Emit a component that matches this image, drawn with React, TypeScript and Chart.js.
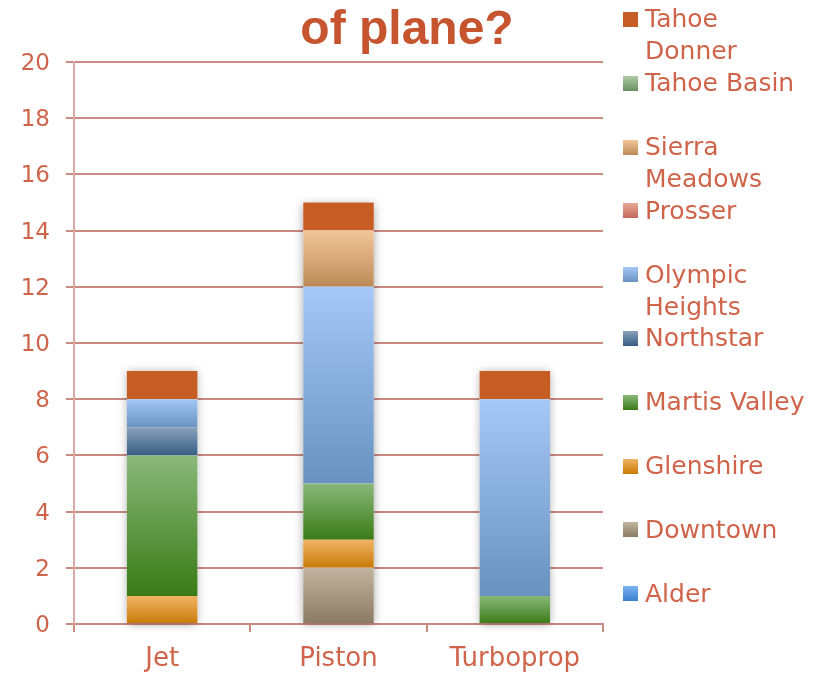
import React, { useEffect, useRef } from "react";
import { Chart, registerables } from "chart.js";

Chart.register(...registerables);

const categories = ["Jet", "Piston", "Turboprop"];

const seriesNames = [
  "Alder",
  "Downtown",
  "Glenshire",
  "Martis Valley",
  "Northstar",
  "Olympic Heights",
  "Prosser",
  "Sierra Meadows",
  "Tahoe Basin",
  "Tahoe Donner",
];

const alder = [0, 0, 0];
const downtown = [0, 2, 0];
const glenshire = [1, 1, 0];
const martisValley = [5, 2, 1];
const northstar = [1, 0, 0];
const olympicHeights = [1, 7, 7];
const prosser = [0, 0, 0];
const sierraMeadows = [0, 2, 0];
const tahoeBasin = [0, 0, 0];
const tahoeDonner = [1, 1, 1];

const seriesValues = [
  alder,
  downtown,
  glenshire,
  martisValley,
  northstar,
  olympicHeights,
  prosser,
  sierraMeadows,
  tahoeBasin,
  tahoeDonner,
];

const yTicks = [0, 2, 4, 6, 8, 10, 12, 14, 16, 18, 20];

const titleText = "of plane?";

// gradient colours [top, bottom]
const seriesColors: [string, string][] = [
  ["#7cb4f2", "#3a7fcf"],
  ["#c2b4a0", "#8a7a62"],
  ["#f0b464", "#c97a06"],
  ["#8ab87a", "#3a7a16"],
  ["#8aa2bc", "#375d85"],
  ["#a6c8f6", "#6892c0"],
  ["#eaa898", "#c26a5a"],
  ["#f2c69a", "#bc8a58"],
  ["#aecca6", "#6a8e5e"],
  ["#c55d24", "#c55d24"],
];

const legendBreak = ["Tahoe Donner", "Sierra Meadows", "Olympic Heights"];

const TEXT_COLOR = "#d0644a";
const GRID_COLOR = "#c98a82";
const AXIS_COLOR = "#dcaaa6";
const FONT = "'DejaVu Sans', sans-serif";

const shadowPlugin = {
  id: "stackShadow",
  beforeDatasetsDraw(chart: any) {
    const ctx = chart.ctx;
    const n = chart.data.labels.length;
    for (let i = 0; i < n; i++) {
      let top = Infinity;
      let bottom = -Infinity;
      let x = 0;
      let w = 0;
      chart.data.datasets.forEach((ds: any, di: number) => {
        const meta = chart.getDatasetMeta(di);
        const el: any = meta.data[i];
        if (!el || !ds.data[i]) return;
        const p = el.getProps(["x", "y", "base", "width"], true);
        top = Math.min(top, p.y, p.base);
        bottom = Math.max(bottom, p.y, p.base);
        x = p.x;
        w = p.width;
      });
      if (!isFinite(top)) continue;
      ctx.save();
      ctx.shadowColor = "rgba(0,0,0,0.35)";
      ctx.shadowBlur = 9;
      ctx.shadowOffsetX = 0;
      ctx.shadowOffsetY = 1;
      ctx.fillStyle = "#ffffff";
      ctx.fillRect(x - w / 2, top, w, bottom - top);
      ctx.restore();
    }
  },
};

export default function App() {
  const canvasRef = useRef<HTMLCanvasElement | null>(null);

  useEffect(() => {
    if (!canvasRef.current) return;
    const datasets = seriesNames.map((name, si) => ({
      label: name,
      data: seriesValues[si],
      borderWidth: 0,
      barPercentage: 0.8,
      categoryPercentage: 0.5,
      backgroundColor: (ctx: any) => {
        const [topC, botC] = seriesColors[si];
        const chart = ctx.chart;
        const yScale = chart.scales && chart.scales.y;
        if (!chart.chartArea || !yScale || ctx.type !== "data") return topC;
        const di = ctx.dataIndex;
        let start = 0;
        for (let k = 0; k < si; k++) start += seriesValues[k][di];
        const end = start + seriesValues[si][di];
        const y0 = yScale.getPixelForValue(start);
        const y1 = yScale.getPixelForValue(end);
        if (!isFinite(y0) || !isFinite(y1) || y0 === y1) return topC;
        const g = chart.ctx.createLinearGradient(0, y1, 0, y0);
        g.addColorStop(0, topC);
        g.addColorStop(1, botC);
        return g;
      },
    }));

    const chart = new Chart(canvasRef.current, {
      type: "bar",
      data: { labels: categories, datasets },
      plugins: [shadowPlugin],
      options: {
        animation: false,
        responsive: false,
        maintainAspectRatio: false,
        layout: { padding: { left: 0, top: 62, right: 211, bottom: 0 } },
        plugins: {
          legend: { display: false },
          title: { display: false },
          tooltip: { enabled: false },
        },
        scales: {
          x: {
            stacked: true,
            afterFit: (scale: any) => {
              scale.height = 51;
            },
            grid: {
              offset: true,
              drawOnChartArea: false,
              drawTicks: true,
              tickLength: 8,
              color: GRID_COLOR,
              lineWidth: 2,
            },
            border: { color: GRID_COLOR, width: 2 },
            ticks: {
              color: TEXT_COLOR,
              font: { family: FONT, size: 26 },
              padding: 12,
            },
          },
          y: {
            stacked: true,
            min: 0,
            max: 20,
            afterFit: (scale: any) => {
              scale.width = 74;
            },
            afterBuildTicks: (scale: any) => {
              scale.ticks = yTicks.map((v) => ({ value: v }));
            },
            grid: {
              color: GRID_COLOR,
              lineWidth: 2,
              tickLength: 8,
              drawTicks: true,
            },
            border: { color: AXIS_COLOR, width: 2 },
            ticks: {
              color: TEXT_COLOR,
              font: { family: FONT, size: 23 },
              padding: 16,
              labelOffset: 2,
            },
          },
        },
      } as any,
    });
    return () => chart.destroy();
  }, []);

  const legendItems = seriesNames
    .map((name, si) => ({ name, si }))
    .reverse();

  return (
    <div
      style={{
        position: "fixed",
        left: 0,
        top: 0,
        width: 814,
        height: 675,
        background: "#ffffff",
        overflow: "hidden",
      }}
    >
      <canvas
        ref={canvasRef}
        width={814}
        height={675}
        style={{ position: "absolute", left: 0, top: 0, width: 814, height: 675 }}
      />
      <div
        style={{
          position: "absolute",
          left: 0,
          top: 4,
          width: 814,
          textAlign: "center",
          fontFamily: "'Liberation Sans', Arial, sans-serif",
          fontWeight: "bold",
          fontSize: 48,
          lineHeight: "48px",
          color: "#c5542f",
          whiteSpace: "nowrap",
        }}
      >
        {titleText}
      </div>
      {legendItems.map((item, i) => {
        const top = 3.4 + 63.8 * i;
        const [topC, botC] = seriesColors[item.si];
        const parts = legendBreak.includes(item.name)
          ? item.name.split(" ")
          : [item.name];
        return (
          <div key={item.name}>
            <div
              style={{
                position: "absolute",
                left: 623,
                top: top + 8.6,
                width: 15,
                height: 15,
                background: `linear-gradient(${topC}, ${botC})`,
              }}
            />
            <div
              style={{
                position: "absolute",
                left: 645,
                top,
                fontFamily: FONT,
                fontSize: 25,
                lineHeight: "32px",
                color: TEXT_COLOR,
                whiteSpace: "nowrap",
              }}
            >
              {parts.map((p, k) => (
                <div key={k}>{p}</div>
              ))}
            </div>
          </div>
        );
      })}
    </div>
  );
}
